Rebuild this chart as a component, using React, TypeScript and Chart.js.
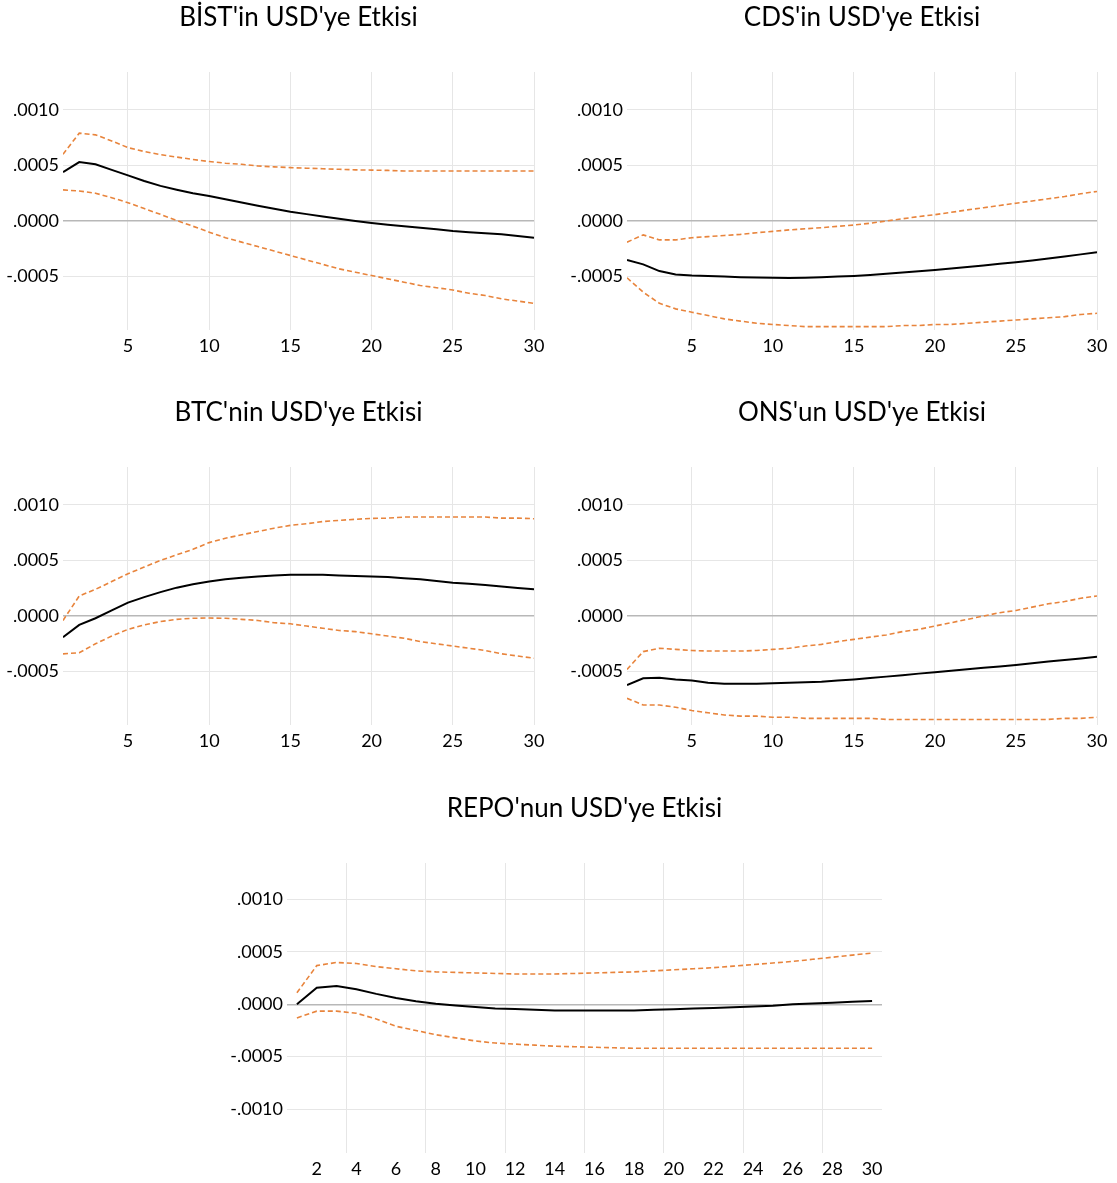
import React, { useEffect, useRef } from "react";
import { Chart, registerables } from "chart.js";

Chart.register(...registerables);

// ---------- DATA ----------
const periods = [1, 2, 3, 4, 5, 6, 7, 8, 9, 10, 11, 12, 13, 14, 15, 16, 17, 18, 19, 20, 21, 22, 23, 24, 25, 26, 27, 28, 29, 30];

const bistResp = [0.00044, 0.00053, 0.00051, 0.00046, 0.00041, 0.00036, 0.000316, 0.000282, 0.00025, 0.000225, 0.000195, 0.000166, 0.000138, 0.000111, 0.000084, 0.000062, 0.00004, 0.00002, 0.0, -0.000018, -0.000033, -0.000047, -0.00006, -0.000075, -0.00009, -0.0001, -0.00011, -0.00012, -0.000135, -0.00015];
const bistUpper = [0.0006, 0.00079, 0.000775, 0.00072, 0.00066, 0.000625, 0.000597, 0.000575, 0.000553, 0.000535, 0.00052, 0.00051, 0.000495, 0.000487, 0.00048, 0.000475, 0.00047, 0.000465, 0.00046, 0.000458, 0.000455, 0.00045, 0.00045, 0.00045, 0.00045, 0.00045, 0.00045, 0.00045, 0.00045, 0.00045];
const bistLower = [0.00028, 0.00027, 0.00025, 0.00021, 0.000165, 0.000112, 0.00006, 0.000005, -0.000047, -0.0001, -0.00015, -0.00019, -0.00023, -0.00027, -0.00031, -0.00035, -0.00039, -0.00043, -0.00046, -0.00049, -0.00052, -0.00055, -0.00058, -0.0006, -0.00062, -0.00065, -0.00067, -0.0007, -0.00072, -0.00074];

const cdsResp = [-0.00035, -0.00039, -0.00045, -0.00048, -0.00049, -0.000495, -0.0005, -0.000505, -0.000508, -0.00051, -0.000512, -0.00051, -0.000506, -0.0005, -0.000494, -0.000485, -0.000475, -0.000464, -0.000452, -0.00044, -0.000427, -0.000413, -0.0004, -0.000385, -0.00037, -0.000354, -0.000337, -0.00032, -0.0003, -0.00028];
const cdsUpper = [-0.00019, -0.000125, -0.00017, -0.00017, -0.00015, -0.00014, -0.00013, -0.00012, -0.000105, -0.000093, -0.00008, -0.00007, -0.00006, -0.000048, -0.000036, -0.00002, 0.0, 0.00002, 0.00004, 0.000057, 0.000078, 0.0001, 0.00012, 0.00014, 0.00016, 0.00018, 0.0002, 0.00022, 0.000245, 0.000266];
const cdsLower = [-0.00051, -0.00064, -0.00074, -0.00079, -0.00082, -0.00085, -0.00088, -0.0009, -0.00092, -0.00093, -0.00094, -0.00095, -0.00095, -0.00095, -0.00095, -0.00095, -0.00095, -0.00094, -0.00094, -0.00093, -0.00093, -0.00092, -0.00091, -0.0009, -0.00089, -0.00088, -0.00087, -0.00086, -0.00084, -0.00083];

const btcResp = [-0.00019, -0.00008, -0.00002, 0.00005, 0.00012, 0.00017, 0.000215, 0.000255, 0.000285, 0.00031, 0.00033, 0.000345, 0.000355, 0.000365, 0.00037, 0.00037, 0.00037, 0.000365, 0.00036, 0.000355, 0.00035, 0.00034, 0.00033, 0.000315, 0.0003, 0.00029, 0.000278, 0.000265, 0.000252, 0.00024];
const btcUpper = [-0.00004, 0.00018, 0.00024, 0.00031, 0.00038, 0.00044, 0.0005, 0.00055, 0.0006, 0.00066, 0.0007, 0.00073, 0.00076, 0.00079, 0.000815, 0.00083, 0.00085, 0.00086, 0.00087, 0.000878, 0.00088, 0.00089, 0.00089, 0.00089, 0.00089, 0.00089, 0.00089, 0.00088, 0.00088, 0.000875];
const btcLower = [-0.00034, -0.00033, -0.00025, -0.00018, -0.00012, -0.00008, -0.00005, -0.00003, -0.00002, -0.000018, -0.00002, -0.00003, -0.00004, -0.00006, -0.00007, -0.00009, -0.00011, -0.00013, -0.00014, -0.00016, -0.00018, -0.0002, -0.00023, -0.00025, -0.00027, -0.00029, -0.00031, -0.00034, -0.00036, -0.00038];

const onsResp = [-0.00062, -0.00056, -0.000555, -0.00057, -0.00058, -0.0006, -0.00061, -0.00061, -0.00061, -0.000605, -0.0006, -0.000595, -0.00059, -0.00058, -0.00057, -0.000558, -0.000545, -0.000532, -0.000518, -0.000505, -0.000492, -0.000479, -0.000466, -0.000453, -0.00044, -0.000425, -0.00041, -0.000396, -0.000381, -0.000366];
const onsUpper = [-0.00048, -0.00032, -0.00029, -0.0003, -0.00031, -0.000315, -0.000315, -0.000315, -0.00031, -0.0003, -0.00029, -0.00027, -0.000255, -0.00023, -0.00021, -0.00019, -0.00017, -0.00014, -0.00012, -0.00009, -0.00006, -0.00003, 0.0, 0.00003, 0.00005, 0.00008, 0.00011, 0.00013, 0.00016, 0.00018];
const onsLower = [-0.00074, -0.0008, -0.0008, -0.00082, -0.00085, -0.00087, -0.00089, -0.0009, -0.0009, -0.00091, -0.00091, -0.00092, -0.00092, -0.00092, -0.00092, -0.00092, -0.00093, -0.00093, -0.00093, -0.00093, -0.00093, -0.00093, -0.00093, -0.00093, -0.00093, -0.00093, -0.00093, -0.00092, -0.00092, -0.00091];

const repoResp = [0.0, 0.000158, 0.000174, 0.000145, 0.0001, 0.00006, 0.00003, 0.000006, -0.00001, -0.000026, -0.00004, -0.000045, -0.000052, -0.000058, -0.00006, -0.00006, -0.00006, -0.000058, -0.000052, -0.000046, -0.00004, -0.000034, -0.000027, -0.00002, -0.000013, 0.0, 0.000008, 0.000015, 0.000024, 0.000032];
const repoUpper = [0.00011, 0.00037, 0.0004, 0.00039, 0.00036, 0.00034, 0.00032, 0.00031, 0.000305, 0.0003, 0.000295, 0.00029, 0.00029, 0.00029, 0.000295, 0.0003, 0.000305, 0.00031, 0.00032, 0.00033, 0.00034, 0.00035, 0.000365, 0.00038, 0.000395, 0.00041, 0.00043, 0.00045, 0.00047, 0.00049];
const repoLower = [-0.00013, -0.000065, -0.000065, -0.000085, -0.00014, -0.00021, -0.00025, -0.00029, -0.00032, -0.00035, -0.00037, -0.00038, -0.00039, -0.0004, -0.000405, -0.00041, -0.000415, -0.00042, -0.00042, -0.00042, -0.00042, -0.00042, -0.00042, -0.00042, -0.00042, -0.00042, -0.00042, -0.00042, -0.00042, -0.00042];

const titles = ["BİST'in USD'ye Etkisi", "CDS'in USD'ye Etkisi", "BTC'nin USD'ye Etkisi", "ONS'un USD'ye Etkisi", "REPO'nun USD'ye Etkisi"];

const yTickValues4 = [-0.0005, 0, 0.0005, 0.001];
const yTickValues5 = [-0.001, -0.0005, 0, 0.0005, 0.001];
const yTickLabelMap: [number, string][] = [[-0.001, "-.0010"], [-0.0005, "-.0005"], [0, ".0000"], [0.0005, ".0005"], [0.001, ".0010"]];

const xTicksTop = [5, 10, 15, 20, 25, 30];
const xTicksRepoLabels = [2, 4, 6, 8, 10, 12, 14, 16, 18, 20, 22, 24, 26, 28, 30];
const xGridRepo = [3.5, 7.5, 11.5, 15.5, 19.5, 23.5, 27.5];

// ---------- STYLE ----------
const FONT = "Lato, 'Open Sans', sans-serif";
const ORANGE = "#E8843C";
const GRID = "#e6e6e6";
const ZERO = "#b8b8b8";

type Panel = {
  title: string;
  resp: number[];
  upper: number[];
  lower: number[];
  left: number;
  top: number;
  width: number;
  height: number;
  yWidth: number;
  padRight: number;
  titlePadTop: number;
  titlePadBottom: number;
  yMin: number;
  yMax: number;
  yTicks: number[];
  repo: boolean;
};

const panels: Panel[] = [
  { title: titles[0], resp: bistResp, upper: bistUpper, lower: bistLower, left: 0, top: 0, width: 560, height: 360, yWidth: 63, padRight: 26, titlePadTop: 2, titlePadBottom: 38.8, yMin: -0.00098, yMax: 0.00134, yTicks: yTickValues4, repo: false },
  { title: titles[1], resp: cdsResp, upper: cdsUpper, lower: cdsLower, left: 564, top: 0, width: 553, height: 360, yWidth: 63, padRight: 20, titlePadTop: 2, titlePadBottom: 38.8, yMin: -0.00098, yMax: 0.00134, yTicks: yTickValues4, repo: false },
  { title: titles[2], resp: btcResp, upper: btcUpper, lower: btcLower, left: 0, top: 395, width: 560, height: 360, yWidth: 63, padRight: 26, titlePadTop: 2, titlePadBottom: 38.8, yMin: -0.00098, yMax: 0.00134, yTicks: yTickValues4, repo: false },
  { title: titles[3], resp: onsResp, upper: onsUpper, lower: onsLower, left: 564, top: 395, width: 553, height: 360, yWidth: 63, padRight: 20, titlePadTop: 2, titlePadBottom: 38.8, yMin: -0.00098, yMax: 0.00134, yTicks: yTickValues4, repo: false },
  { title: titles[4], resp: repoResp, upper: repoUpper, lower: repoLower, left: 220, top: 790, width: 680, height: 393, yWidth: 67, padRight: 18, titlePadTop: 3, titlePadBottom: 38.8, yMin: -0.00142, yMax: 0.00135, yTicks: yTickValues5, repo: true },
];

function yLabel(v: number): string {
  for (const [val, lab] of yTickLabelMap) {
    if (Math.abs(val - v) < 1e-9) return lab;
  }
  return "";
}

function ChartPanel({ p }: { p: Panel }) {
  const ref = useRef<HTMLCanvasElement | null>(null);
  useEffect(() => {
    if (!ref.current) return;
    const mk = (arr: number[]) => periods.map((x, i) => ({ x, y: arr[i] }));
    const xTickList = p.repo ? [...xTicksRepoLabels, ...xGridRepo].sort((a, b) => a - b) : xTicksTop;
    const chart = new Chart(ref.current, {
      type: "line",
      data: {
        datasets: [
          { data: mk(p.upper), borderColor: ORANGE, borderWidth: 1.6, borderDash: [5, 3], pointRadius: 0, fill: false, tension: 0 },
          { data: mk(p.lower), borderColor: ORANGE, borderWidth: 1.6, borderDash: [5, 3], pointRadius: 0, fill: false, tension: 0 },
          { data: mk(p.resp), borderColor: "#000000", borderWidth: 2, pointRadius: 0, fill: false, tension: 0 },
        ],
      },
      options: {
        animation: false,
        responsive: false,
        devicePixelRatio: 1,
        layout: { padding: { left: 0, right: p.padRight, top: 0, bottom: 0 } },
        plugins: {
          legend: { display: false },
          tooltip: { enabled: false },
          title: {
            display: true,
            text: p.title,
            color: "#000",
            fullSize: false,
            font: { family: FONT, size: 26, weight: "normal" },
            padding: { top: p.titlePadTop, bottom: p.titlePadBottom },
          },
        },
        scales: {
          x: {
            type: "linear",
            min: p.repo ? 0.5 : 1,
            max: p.repo ? 30.5 : 30,
            border: { display: false },
            afterBuildTicks: (s: any) => {
              s.ticks = xTickList.map((v) => ({ value: v }));
            },
            afterFit: (s: any) => {
              s.height = 30;
            },
            grid: {
              drawTicks: false,
              color: (ctx: any) => {
                const v = ctx.tick ? ctx.tick.value : 0;
                if (p.repo) return xGridRepo.includes(v) ? GRID : "rgba(0,0,0,0)";
                return GRID;
              },
              lineWidth: 1,
            },
            ticks: {
              autoSkip: false,
              maxRotation: 0,
              padding: 5,
              color: "#000",
              font: { family: FONT, size: 18 },
              callback: (v: any) => {
                const n = Number(v);
                if (p.repo) return xTicksRepoLabels.includes(n) ? String(n) : "";
                return String(n);
              },
            },
          },
          y: {
            type: "linear",
            min: p.yMin,
            max: p.yMax,
            border: { display: false },
            afterBuildTicks: (s: any) => {
              s.ticks = p.yTicks.map((v) => ({ value: v }));
            },
            afterFit: (s: any) => {
              s.width = p.yWidth;
            },
            grid: {
              drawTicks: false,
              color: (ctx: any) => (ctx.tick && Math.abs(ctx.tick.value) < 1e-12 ? ZERO : GRID),
              lineWidth: (ctx: any) => (ctx.tick && Math.abs(ctx.tick.value) < 1e-12 ? 1.5 : 1),
            },
            ticks: {
              padding: 4,
              color: "#000",
              font: { family: FONT, size: 18 },
              callback: (v: any) => yLabel(Number(v)),
            },
          },
        },
      },
    } as any);
    return () => chart.destroy();
  }, [p]);
  return (
    <canvas
      ref={ref}
      width={p.width}
      height={p.height}
      style={{ position: "absolute", left: p.left, top: p.top, width: p.width, height: p.height }}
    />
  );
}

export default function App() {
  return (
    <div style={{ position: "absolute", left: 0, top: 0, width: 1117, height: 1183, background: "#fff" }}>
      {panels.map((p, i) => (
        <ChartPanel key={i} p={p} />
      ))}
    </div>
  );
}
